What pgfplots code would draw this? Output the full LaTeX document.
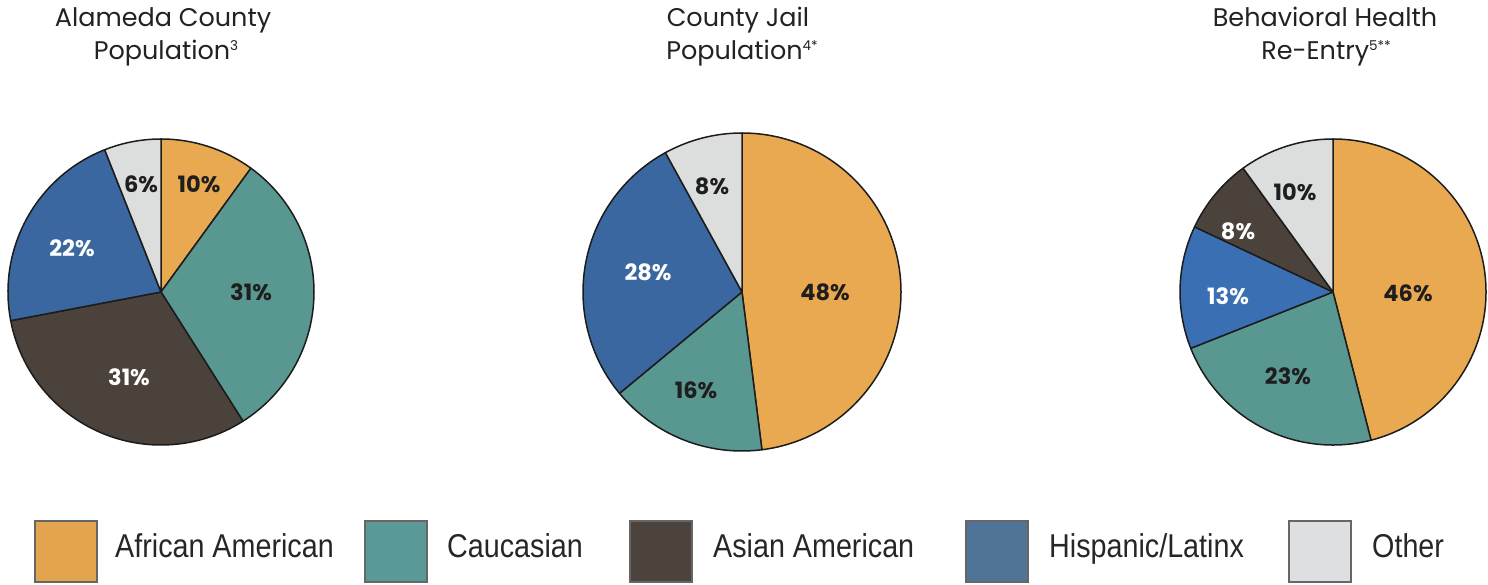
\documentclass[border=0pt]{standalone}
\usepackage{fontspec}
\usepackage{pgfplots}
\usepackage{pgfplotstable}
\pgfplotsset{compat=1.18}
\setmainfont{Poppins}
\newfontfamily\legfont[FakeStretch=0.87]{Liberation Sans}

\definecolor{afr}{HTML}{E8A951}
\definecolor{cau}{HTML}{599791}
\definecolor{asi}{HTML}{4C423C}
\definecolor{his}{HTML}{3A67A0}
\definecolor{hisb}{HTML}{3A70B3}
\definecolor{oth}{HTML}{DCDEDE}
\definecolor{lafr}{HTML}{E3A44F}
\definecolor{lcau}{HTML}{5A9995}
\definecolor{lasi}{HTML}{4D433D}
\definecolor{lhis}{HTML}{4F7497}
\definecolor{loth}{HTML}{DEDFE0}
\definecolor{lbldark}{HTML}{1E1E1E}
\definecolor{edgecol}{HTML}{1C1C1C}
\definecolor{legedge}{HTML}{666666}
\definecolor{titlecol}{HTML}{222222}

\newcommand{\pielabfont}{\bfseries\fontsize{22.5}{22.5}\selectfont}

% slices clockwise from 12 o'clock: value, colour, label offset (px), label colour
\pgfplotstableread{
val col lx ly tc
10 afr 38 108 lbldark
31 cau 90 0 lbldark
31 asi -32 -85 white
22 his -89 44 white
6 oth -20 108 lbldark
}\pieA
\pgfplotstableread{
val col lx ly tc
48 afr 83 0 lbldark
16 cau -46 -98 lbldark
28 his -94 20 white
8 oth -30 106 lbldark
}\pieB
\pgfplotstableread{
val col lx ly tc
46 afr 75 -1 lbldark
23 cau -45 -84 lbldark
13 hisb -105 -4 white
8 asi -95 61 white
10 oth -38 100 lbldark
}\pieC

\newcommand{\drawpie}[2]{%
  \pgfplotstablegetrowsof{#1}%
  \pgfmathtruncatemacro{\lastrow}{\pgfplotsretval-1}%
  \def\startang{90}%
  \pgfplotsforeachungrouped \ri in {0,...,\lastrow}{%
    \pgfplotstablegetelem{\ri}{val}\of{#1}\let\sv\pgfplotsretval
    \pgfplotstablegetelem{\ri}{col}\of{#1}\let\sc\pgfplotsretval
    \pgfmathsetmacro{\endang}{\startang-3.6*\sv}%
    \pgfmathsetmacro{\sx}{#2*cos(\startang)}%
    \pgfmathsetmacro{\sy}{#2*sin(\startang)}%
    \edef\doit{\noexpand\filldraw[fill=\sc, draw=edgecol, line width=1.5pt, line join=round]
      (axis cs:0,0) -- (axis cs:\sx,\sy) arc[start angle=\startang, end angle=\endang, radius=#2pt] -- cycle;}%
    \doit
    \let\startang\endang
  }%
  \pgfplotsforeachungrouped \ri in {0,...,\lastrow}{%
    \pgfplotstablegetelem{\ri}{val}\of{#1}\let\sv\pgfplotsretval
    \pgfplotstablegetelem{\ri}{lx}\of{#1}\let\slx\pgfplotsretval
    \pgfplotstablegetelem{\ri}{ly}\of{#1}\let\sly\pgfplotsretval
    \pgfplotstablegetelem{\ri}{tc}\of{#1}\let\stc\pgfplotsretval
    \edef\doit{\noexpand\node[text=\stc, font=\noexpand\pielabfont, inner sep=0pt] at (axis cs:\slx,\sly) {\sv\noexpand\%};}%
    \doit
  }%
}

\pgfplotsset{pieaxis/.style={hide axis, x=1pt, y=1pt, xmin=-170, xmax=170, ymin=-170, ymax=170, anchor=center, clip=false}}

\newcommand{\titlefont}{\fontsize{25.5}{25.5}\selectfont}
\newcommand{\supfont}{\fontsize{13.5}{13.5}\selectfont}
\newcommand{\legtext}{\legfont\fontsize{33}{33}\selectfont}

\begin{document}
\begin{tikzpicture}
\path[use as bounding box] (0,0) rectangle (1488pt,584pt);

\begin{axis}[pieaxis, at={(161pt,292pt)}]
\addplot[draw=none] coordinates {(0,0)};
\drawpie{\pieA}{153}
\end{axis}
\begin{axis}[pieaxis, at={(742pt,292pt)}]
\addplot[draw=none] coordinates {(0,0)};
\drawpie{\pieB}{159}
\end{axis}
\begin{axis}[pieaxis, at={(1333pt,292pt)}]
\addplot[draw=none] coordinates {(0,0)};
\drawpie{\pieC}{153}
\end{axis}

% titles
\node[anchor=base, inner sep=0, text=titlecol] at (163pt,557pt) {\titlefont Alameda County};
\node[anchor=base, inner sep=0, text=titlecol] at (166pt,524pt) {\titlefont Population\raisebox{9pt}{\supfont 3}};
\node[anchor=base, inner sep=0, text=titlecol] at (738pt,557pt) {\titlefont County Jail};
\node[anchor=base, inner sep=0, text=titlecol] at (742pt,524pt) {\titlefont Population\raisebox{9pt}{\supfont 4*}};
\node[anchor=base, inner sep=0, text=titlecol] at (1325pt,557pt) {\titlefont Behavioral Health};
\node[anchor=base, inner sep=0, text=titlecol] at (1326pt,524pt) {\titlefont Re-Entry\raisebox{9pt}{\supfont 5**}};

% legend
\foreach \bx/\tx/\lc/\lab in {35/115/lafr/{African American}, 365/447/lcau/{Caucasian}, 630/713/lasi/{Asian American}, 966/1049/lhis/{Hispanic/Latinx}, 1289/1372/loth/{Other}}{
  \draw[fill=\lc, draw=legedge, line width=1.3pt] (\bx pt,2pt) rectangle ++(62pt,61pt);
  \node[anchor=base west, inner sep=0, text=black!85] at (\tx pt,27pt) {\legtext \lab};
}
\end{tikzpicture}
\end{document}
